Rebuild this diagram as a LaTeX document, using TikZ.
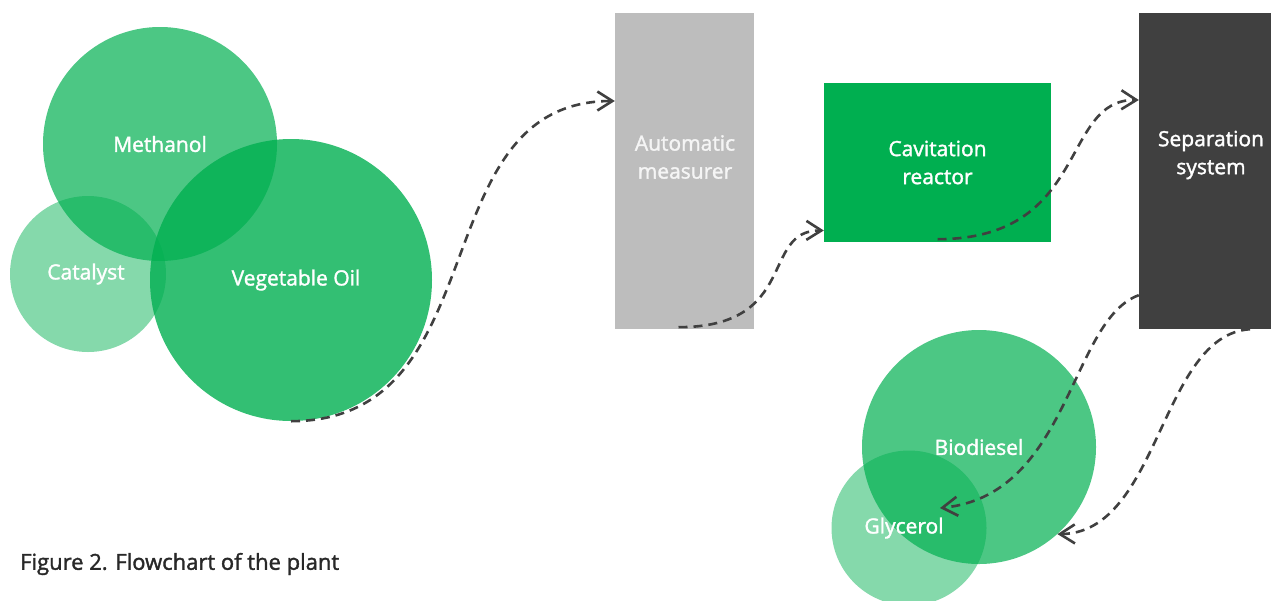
\documentclass[tikz,border=0pt]{standalone}
\usepackage{fontspec}
\setmainfont{Open Sans}
\newfontfamily\medfam{Open Sans}[FakeBold=1.6]
\usetikzlibrary{arrows.meta,calc}
\definecolor{plantgreen}{RGB}{0,175,80}
\definecolor{boxgray}{RGB}{189,189,189}
\definecolor{boxdark}{RGB}{64,64,64}
\definecolor{flowline}{RGB}{64,64,64}
\definecolor{captioncol}{RGB}{40,40,40}
\newcommand{\lblfont}{\medfam\fontsize{21}{28}\selectfont}
\tikzset{
  bubble/.style={circle, inner sep=0pt, fill=plantgreen, text=white, text opacity=1, font=\lblfont},
  unitbox/.style={rectangle, inner sep=0pt, draw=none},
  lbl/.style={text=white, font=\lblfont, align=center, inner sep=0pt},
  flow/.style={draw=flowline, line width=2.6pt, dash pattern=on 9pt off 6pt,
    -{Straight Barb[length=15pt,width=19pt]}}
}
\begin{document}
\begin{tikzpicture}[x=1pt,y=-1pt]
\useasboundingbox (0,0) rectangle (1271,600);
% left bubbles
\node[bubble, minimum size=234pt, fill opacity=0.70] (meth) at (160,144) {Methanol};
\node[bubble, minimum size=156pt, fill opacity=0.48] (cat) at (88,274) {\raisebox{-3pt}{\hspace*{-4pt}Catalyst}};
\node[bubble, minimum size=282pt, fill opacity=0.80] (veg) at (291,280) {\raisebox{-2pt}{\hspace*{10pt}Vegetable Oil}};
% boxes
\node[unitbox, fill=boxgray, minimum width=139pt, minimum height=316pt] (am) at (684.5,171) {};
\node[lbl, text=white!96!black] (amt) at (685,157) {Automatic\\measurer};
\node[unitbox, fill=plantgreen, minimum width=227pt, minimum height=159pt, lbl] (cr) at (937.5,162.5) {Cavitation\\reactor};
\node[unitbox, fill=boxdark, minimum width=144pt, minimum height=316pt] (ss) at (1211,171) {};
\node[lbl] (sst) at (1211,155) {Separation\\system};
% bottom bubbles
\node[bubble, minimum size=234pt, fill opacity=0.70] (bd) at (979,447) {Biodiesel};
\node[bubble, minimum size=155pt, fill opacity=0.48] (gly) at (909,528) {\raisebox{-4pt}{\hspace*{-10pt}Glycerol}};
% caption
\node[anchor=west, inner sep=0pt, text=captioncol, font=\medfam\fontsize{22}{24}\selectfont] (cap) at (20,564) {Figure 2. Flowchart of the plant};
% flows
\draw[flow] (veg.south) .. controls (500,421) and (420,101) .. ([yshift=70pt]am.west);
\draw[flow] ([xshift=-6pt,yshift=2pt]am.south) .. controls (800,327) and (760,230) .. ([yshift=-68pt]cr.west);
\draw[flow] ([yshift=3pt]cr.south) .. controls (1090,239) and (1060,99) .. ([yshift=71pt]ss.west);
\draw[flow] ([yshift=34pt]ss.south west) .. controls (1070,320) and (1070,495) .. ([xshift=31pt,yshift=20pt]gly.center);
\draw[flow] ([xshift=39pt]ss.south) .. controls (1160,335) and (1160,533) .. (bd.-48.5);
\end{tikzpicture}
\end{document}
